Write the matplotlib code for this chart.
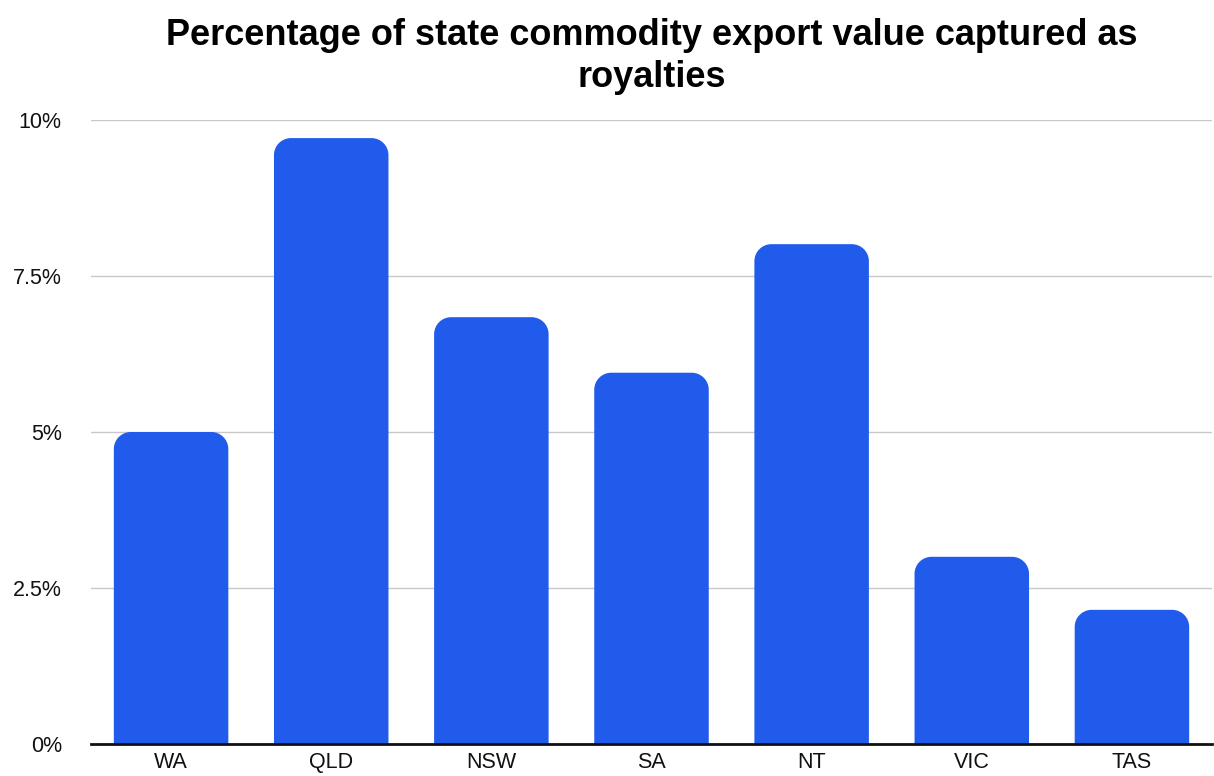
import matplotlib.pyplot as plt
import numpy as np
from matplotlib.path import Path
from matplotlib.patches import PathPatch

states = ['WA', 'QLD', 'NSW', 'SA', 'NT', 'VIC', 'TAS']
royalty_pct = [5.0, 9.71, 6.84, 5.95, 8.01, 3.0, 2.15]
yticks = [0, 2.5, 5, 7.5, 10]
ytick_labels = ['0%', '2.5%', '5%', '7.5%', '10%']

plt.rcParams['font.family'] = ['Liberation Sans', 'DejaVu Sans']

W, H = 1214, 776
fig = plt.figure(figsize=(W / 100, H / 100), dpi=100)
ax = fig.add_axes([91 / W, 32 / H, (1212 - 91) / W, (744 - 120) / H])

x = np.arange(len(states))
bw = 0.715
ax.set_xlim(-0.5, len(states) - 0.5)
ax.set_ylim(0, 10)

# rounded top corners: radius in pixels converted to data units
rad_px = 17
ax_w_px = 1212 - 91
ax_h_px = 744 - 120
rx = rad_px * len(states) / ax_w_px
ry = rad_px * 10 / ax_h_px
k = 0.5523
for xi, v in zip(x, royalty_pct):
    l, r = xi - bw / 2, xi + bw / 2
    verts = [(l, 0), (l, v - ry),
             (l, v - ry + k * ry), (l + rx - k * rx, v), (l + rx, v),
             (r - rx, v),
             (r - rx + k * rx, v), (r, v - ry + k * ry), (r, v - ry),
             (r, 0), (l, 0)]
    codes = [Path.MOVETO, Path.LINETO,
             Path.CURVE4, Path.CURVE4, Path.CURVE4,
             Path.LINETO,
             Path.CURVE4, Path.CURVE4, Path.CURVE4,
             Path.LINETO, Path.CLOSEPOLY]
    ax.add_patch(PathPatch(Path(verts, codes), facecolor='#215BEB',
                           edgecolor='none', zorder=3))

ax.set_yticks(yticks)
ax.set_yticklabels(ytick_labels)
ax.set_xticks(x)
ax.set_xticklabels(states)
ax.grid(axis='y', color='#c8c8c8', linewidth=1, zorder=0)
for s in ['top', 'right', 'left']:
    ax.spines[s].set_visible(False)
ax.spines['bottom'].set_linewidth(2)
ax.spines['bottom'].set_color('#111111')
ax.spines['bottom'].set_zorder(4)
ax.tick_params(axis='both', length=0, labelsize=15.5, colors='#111111')
ax.tick_params(axis='y', pad=21)
ax.tick_params(axis='x', pad=6)

ax.set_title('Percentage of state commodity export value captured as\nroyalties',
             fontsize=26, fontweight='bold', color='#000000', pad=24,
             linespacing=1.25)

fig.savefig('out.png', dpi=100)
